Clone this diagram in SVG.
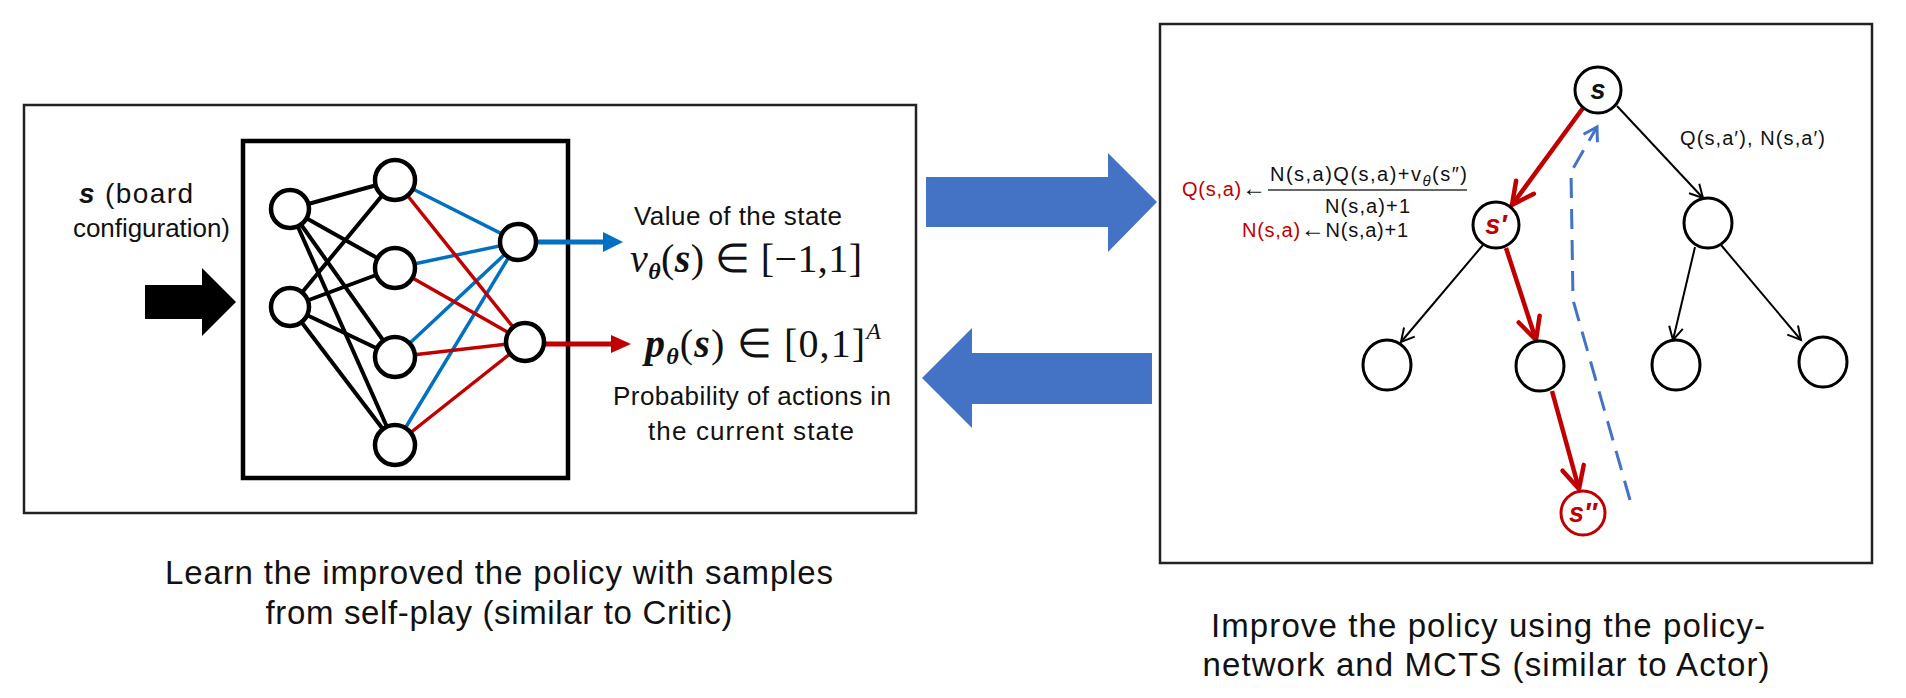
<svg xmlns="http://www.w3.org/2000/svg" width="1906" height="698" viewBox="0 0 1906 698">
<style>
text{font-family:"Liberation Sans",Arial,sans-serif;fill:#111}
.cap{font-size:33px}
.lbl{font-size:26px}
.f{font-size:20px}
.red{fill:#C00000}
.arr{font-size:24px}
.math{font-family:"Liberation Serif","Times New Roman",serif;font-size:40px}
.frame{fill:none;stroke:#222;stroke-width:2.5}
.nn{fill:#fff;stroke:#000;stroke-width:4.5}
.tn{fill:#fff;stroke:#000;stroke-width:3}
.tnr{fill:#fff;stroke:#C00000;stroke-width:3}
.bk{stroke:#000;stroke-width:4}
.bl{stroke:#0070C0;stroke-width:3.5}
.rd{stroke:#C00000;stroke-width:3.5}
.tb{stroke:#000;stroke-width:2;fill:none;marker-end:url(#chevK)}
.tr{stroke:#C00000;stroke-width:4.5;fill:none;marker-end:url(#chevR)}
.big{fill:#4472C4}
.nl{font-size:27px;font-weight:bold;font-style:italic;text-anchor:middle}
</style>
<defs>
<marker id="chevR" markerUnits="userSpaceOnUse" markerWidth="1" markerHeight="1" refX="0" refY="0" orient="auto" overflow="visible">
<path d="M-22,-11 L0,0 L-22,11" fill="none" stroke="#C00000" stroke-width="4.5" stroke-linecap="round"/>
</marker>
<marker id="chevK" markerUnits="userSpaceOnUse" markerWidth="1" markerHeight="1" refX="0" refY="0" orient="auto" overflow="visible">
<path d="M-13,-7 L0,0 L-13,7" fill="none" stroke="#000" stroke-width="2"/>
</marker>
<marker id="chevB" markerUnits="userSpaceOnUse" markerWidth="1" markerHeight="1" refX="0" refY="0" orient="auto" overflow="visible">
<path d="M-13,-8 L0,0 L-13,8" fill="none" stroke="#4472C4" stroke-width="3"/>
</marker>
</defs>
<rect width="1906" height="698" fill="#fff"/>

<g id="left-panel">
<rect class="frame" x="24" y="105" width="892" height="408"/>
<rect x="243" y="141" width="325" height="337" fill="none" stroke="#000" stroke-width="4.5"/>
</g>

<g id="input-label">
<text x="79" y="203" font-size="28" textLength="114"><tspan font-weight="bold" font-style="italic">s</tspan> (board</text>
<text class="lbl" x="73" y="237" textLength="157">configuration)</text>
</g>
<g id="input-arrow">
<polygon points="145,285 202,285 202,268 236,302 202,336 202,319 145,319" fill="#000"/>
</g>

<g id="connectors">
<line class="bk" x1="290" y1="209" x2="395" y2="180"/>
<line class="bk" x1="290" y1="209" x2="395" y2="268"/>
<line class="bk" x1="290" y1="209" x2="395" y2="357"/>
<line class="bk" x1="290" y1="209" x2="395" y2="445"/>
<line class="bk" x1="290" y1="307" x2="395" y2="180"/>
<line class="bk" x1="290" y1="307" x2="395" y2="268"/>
<line class="bk" x1="290" y1="307" x2="395" y2="357"/>
<line class="bk" x1="290" y1="307" x2="395" y2="445"/>
<line class="bl" x1="395" y1="180" x2="518" y2="242"/>
<line class="bl" x1="395" y1="268" x2="518" y2="242" stroke-width="5.5"/>
<line class="bl" x1="395" y1="357" x2="518" y2="242"/>
<line class="bl" x1="395" y1="445" x2="518" y2="242"/>
<line class="rd" x1="395" y1="180" x2="525" y2="342"/>
<line class="rd" x1="395" y1="268" x2="525" y2="342" stroke-width="4.5"/>
<line class="rd" x1="395" y1="357" x2="525" y2="342" stroke-width="5.5"/>
<line class="rd" x1="395" y1="445" x2="525" y2="342"/>
<line x1="536" y1="242" x2="606" y2="242" stroke="#0070C0" stroke-width="5"/>
<polygon points="603,232 623,242 603,252" fill="#0070C0"/>
<line x1="544" y1="344" x2="614" y2="344" stroke="#C00000" stroke-width="5"/>
<polygon points="611,335 631,344 611,353" fill="#C00000"/>

<line class="tr" x1="1583" y1="108" x2="1512" y2="205"/>
<line class="tb" x1="1617" y1="106" x2="1703" y2="198"/>
<line class="tb" x1="1483" y1="245" x2="1401" y2="342"/>
<line class="tr" x1="1506" y1="248" x2="1536" y2="340"/>
<line class="tb" x1="1695" y1="247" x2="1673" y2="340"/>
<line class="tb" x1="1721" y1="245" x2="1801" y2="340"/>
<line class="tr" x1="1552" y1="391" x2="1579" y2="489"/>
<path d="M1630,500 L1573,300 L1571,172 L1597,127" fill="none" stroke="#4472C4" stroke-width="3" stroke-dasharray="20 11" marker-end="url(#chevB)"/>
</g>

<g id="nn-nodes">
<circle class="nn" cx="290" cy="209" r="19"/>
<circle class="nn" cx="290" cy="307" r="19"/>
<circle class="nn" cx="395" cy="180" r="20"/>
<circle class="nn" cx="395" cy="268" r="20"/>
<circle class="nn" cx="395" cy="357" r="20"/>
<circle class="nn" cx="395" cy="445" r="20"/>
<circle class="nn" cx="518" cy="242" r="18" stroke="#0070C0"/>
<circle class="nn" cx="525" cy="342" r="19" stroke="#C00000"/>
</g>

<g id="value-label">
<text class="lbl" x="634" y="225" textLength="208">Value of the state</text>
<text class="math" x="630" y="272" textLength="232"><tspan font-style="italic">v</tspan><tspan font-style="italic" font-weight="bold" font-size="24" dy="7">θ</tspan><tspan dy="-7">(</tspan><tspan font-weight="bold" font-style="italic">s</tspan>) ∈ [−1,1]</text>
</g>
<g id="policy-label">
<text class="math" x="645" y="357" textLength="236"><tspan font-style="italic" font-weight="bold">p</tspan><tspan font-style="italic" font-weight="bold" font-size="24" dy="7">θ</tspan><tspan dy="-7">(</tspan><tspan font-weight="bold" font-style="italic">s</tspan>) ∈ [0,1]<tspan font-style="italic" font-size="24" dy="-18">A</tspan></text>
<text class="lbl" x="613" y="405" textLength="278">Probability of actions in</text>
<text class="lbl" x="648" y="440" textLength="206">the current state</text>
</g>

<g id="arrow-right">
<polygon class="big" points="926,177 1108,177 1108,153 1157,202 1108,252 1108,227 926,227"/>
</g>
<g id="arrow-left">
<polygon class="big" points="1152,353 972,353 972,328 922,378 972,428 972,404 1152,404"/>
</g>

<g id="right-panel">
<rect class="frame" x="1160" y="24" width="712" height="539"/>
</g>

<g id="update-formula">
<text class="f" x="1182" y="196" textLength="84"><tspan class="red">Q(s,a)</tspan><tspan class="arr">←</tspan></text>
<text class="f" x="1270" y="181" textLength="197">N(s,a)Q(s,a)+v<tspan font-style="italic" font-size="15" dy="5">θ</tspan><tspan dy="-5">(s″)</tspan></text>
<line x1="1268" y1="190" x2="1467" y2="190" stroke="#333" stroke-width="1.5"/>
<text class="f" x="1325" y="213" textLength="85">N(s,a)+1</text>
<text class="f" x="1242" y="237" textLength="166"><tspan class="red">N(s,a)</tspan><tspan class="arr">←</tspan>N(s,a)+1</text>
</g>
<g id="qn-label">
<text class="f" x="1680" y="145" textLength="145" font-size="21">Q(s,a′), N(s,a′)</text>
</g>

<g id="node-s"><circle class="tn" cx="1598" cy="90" r="23"/><text class="nl" x="1598" y="99">s</text></g>
<g id="node-s1"><circle class="tn" cx="1496" cy="225" r="23"/><text class="nl red" x="1496" y="234">s′</text></g>
<g id="node-rc"><ellipse class="tn" cx="1708" cy="223" rx="24" ry="25"/></g>
<g id="node-l1"><ellipse class="tn" cx="1387" cy="365" rx="24" ry="25"/></g>
<g id="node-l2"><ellipse class="tn" cx="1540" cy="366" rx="24" ry="25"/></g>
<g id="node-l3"><ellipse class="tn" cx="1676" cy="365" rx="24" ry="25"/></g>
<g id="node-l4"><ellipse class="tn" cx="1823" cy="362" rx="24" ry="25"/></g>
<g id="node-s2"><circle class="tnr" cx="1583" cy="513" r="22"/><text class="nl red" x="1583" y="522">s″</text></g>

<g id="captions">
<text class="cap" x="499" y="584" text-anchor="middle" textLength="668">Learn the improved the policy with samples</text>
<text class="cap" x="499" y="624" text-anchor="middle" textLength="467">from self-play (similar to Critic)</text>
<text class="cap" x="1488" y="637" text-anchor="middle" textLength="554">Improve the policy using the policy-</text>
<text class="cap" x="1486" y="676" text-anchor="middle" textLength="567">network and MCTS (similar to Actor)</text>
</g>
</svg>
